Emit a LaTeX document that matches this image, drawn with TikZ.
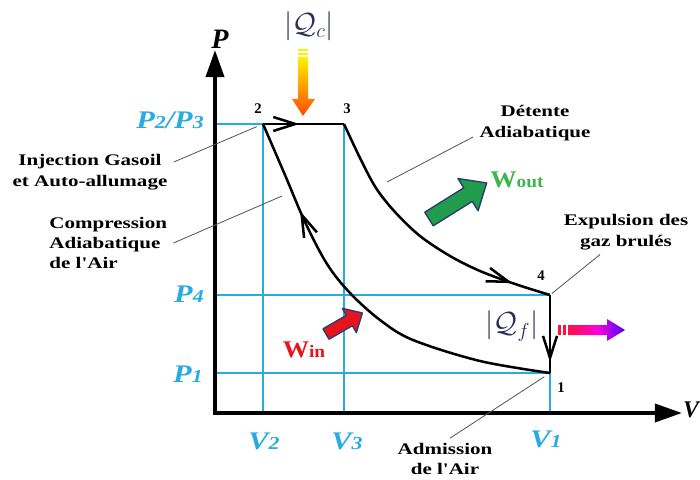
\documentclass[tikz,border=0pt]{standalone}
\usepackage{fontspec}
\setmainfont{Liberation Serif}
\usepackage{tikz}
\usetikzlibrary{arrows.meta, decorations.markings}
\usepackage{xcolor}
\definecolor{pvblue}{HTML}{29ABE2}
\definecolor{woutgreen}{HTML}{1F9D4C}
\definecolor{woutlabel}{HTML}{3CB54A}
\definecolor{winred}{HTML}{E8141B}
\definecolor{edgenavy}{HTML}{2C3E70}
\definecolor{qnavy}{HTML}{2A2F55}
\definecolor{qcyellow}{HTML}{FFF200}
\definecolor{qcorange}{HTML}{FF4A00}
\definecolor{qfred}{HTML}{FF1040}
\definecolor{qfblue}{HTML}{4E00FF}
\newcommand{\pvlab}[2]{#1{\fontsize{13}{13}\selectfont #2}}

\tikzset{
  axis line/.style={line width=2.8pt, line cap=rect, -{Triangle[length=6.8mm, width=4.5mm]}},
  grid line/.style={pvblue, line width=1.1pt},
  cycle line/.style={line width=1.8pt, line join=round},
  flow/.style={postaction={decorate}, decoration={markings,
      mark=at position #1 with {\arrow{Straight Barb[length=5.5mm, width=3.5mm]}}}},
  leader/.style={black!65, line width=0.6pt},
  note/.style={font=\bfseries\fontsize{11.5}{14.5}\selectfont, xscale=1.3, align=center},
  pvlabel/.style={font=\bfseries\itshape\fontsize{18}{18}\selectfont, text=pvblue, xscale=1.2, inner sep=1pt},
  num/.style={font=\bfseries\fontsize{10.5}{10.5}\selectfont},
  heat/.style={font=\fontsize{21}{21}\selectfont, text=qnavy},
}

\begin{document}
\begin{tikzpicture}[x=0.25mm, y=-0.25mm]
\useasboundingbox (0,0) rectangle (700,479);

% states of the cycle
\coordinate (p1) at (550,373);
\coordinate (p2) at (263,124);
\coordinate (p3) at (344,124);
\coordinate (p4) at (550,295);
\coordinate (o) at (215,413);
\coordinate (vend) at (682,413);
\coordinate (pend) at (215,50);

% blue reading lines
\draw[grid line] (p2 -| o) -- (p2) -- (p2 |- o);
\draw[grid line] (p3) -- (p3 |- o);
\draw[grid line] (p4 -| o) -- (p4);
\draw[grid line] (p1 -| o) -- (p1) -- (p1 |- o);

% axes
\draw[axis line] (o) -- (vend);
\draw[axis line] (o) -- (pend);
\node[font=\bfseries\itshape\fontsize{20}{20}\selectfont] (plab) at (220,39) {P};
\node[font=\bfseries\itshape\fontsize{17}{17}\selectfont, anchor=east, inner sep=0.5pt] (vlab) at (700,410) {V};

\node[pvlabel] (lp23) at (170,120) {\pvlab{P}{2}/\pvlab{P}{3}};
\node[pvlabel] (lp4) at (189,294) {\pvlab{P}{4}};
\node[pvlabel] (lp1) at (188,374) {\pvlab{P}{1}};
\node[pvlabel] (lv2) at (264,441) {\pvlab{V}{2}};
\node[pvlabel] (lv3) at (347,441) {\pvlab{V}{3}};
\node[pvlabel] (lv1) at (546,439) {\pvlab{V}{1}};

% the cycle
\draw[cycle line, flow=0.45] (p2) -- (p3);
\draw[cycle line, flow=0.86] (p4) -- (p1);
\draw[cycle line, flow=0.77] plot[smooth, tension=0.55] coordinates
  {(p1) (480,361) (413,340) (380,320) (350,293) (327,264) (305,222) (285,175) (p2)};
\draw[cycle line, flow=0.86] plot[smooth, tension=0.55] coordinates
  {(p3) (360,158) (376,188) (395,212) (420,236) (450,256) (480,271) (515,284) (p4)};

\node[num] (n2) at (258,109) {2};
\node[num] (n3) at (347,109) {3};
\node[num] (n4) at (541,276) {4};
\node[num] (n1) at (561,388) {1};

% heat in and out
\node[heat] (qc) at (309,26) {$|\mathcal{Q}_c|$};
\fill[qcyellow] (298,49) rectangle (308,51);
\fill[qcyellow] (298,53) rectangle (308,55);
\shade[top color=qcyellow, bottom color=qcorange] (298,57) -- (308,57) -- (308,99) -- (315,99)
  -- (303,116) -- (292,99) -- (298,99) -- cycle;

\node[heat] (qf) at (512,326) {$|\mathcal{Q}_f|$};
\fill[qfred] (558,325) rectangle (561,335);
\fill[qfred] (563,325) rectangle (566,335);
\shade[left color=qfred, right color=qfblue, middle color=magenta!85!red] (568,325) -- (607,325)
  -- (607,319) -- (625,330) -- (607,341) -- (607,335) -- (568,335) -- cycle;

% work
\begin{scope}[shift={(429,219)}, rotate=32]
  \draw[fill=woutgreen, draw=edgenavy, line width=1pt, line join=round]
    (0,-8) -- (46,-8) -- (46,-19) -- (68,0) -- (46,19) -- (46,8) -- (0,8) -- cycle;
\end{scope}
\begin{scope}[shift={(326,334)}, rotate=30]
  \draw[fill=winred, draw=edgenavy, line width=1pt, line join=round]
    (0,-6) -- (27,-6) -- (27,-14) -- (42,0) -- (27,14) -- (27,6) -- (0,6) -- cycle;
\end{scope}
\node[font=\bfseries\fontsize{17}{17}\selectfont, text=woutlabel, xscale=1.1] (wout) at (517,180)
  {W{\fontsize{12.5}{12.5}\selectfont out}};
\node[font=\bfseries\fontsize{17}{17}\selectfont, text=winred, xscale=1.1] (win) at (304,350)
  {W{\fontsize{12.5}{12.5}\selectfont in}};

% stages of the cycle
\node[note] (inj) at (90,172) {Injection Gasoil\\et Auto-allumage};
\node[note, align=left, anchor=west] (comp) at (43,243) {Compression\\Adiabatique\\de l\textquotesingle Air};
\node[note] (det) at (535,123) {Détente\\Adiabatique};
\node[note] (expu) at (626,232) {Expulsion des\\gaz brulés};
\node[note] (adm) at (445,459) {Admission\\de l\textquotesingle Air};

\coordinate (compend) at (282,196);
\coordinate (detend) at (387,182);
\draw[leader, shorten >=1.7mm] ([yshift=2.5mm]inj.east) -- (p2);
\draw[leader] (comp.east) -- (compend);
\draw[leader] ([yshift=-3.5mm]det.west) -- (detend);
\draw[leader, shorten >=0.6mm] ([xshift=-6.5mm]expu.south) -- (p4);
\draw[leader, shorten >=1.7mm] ([xshift=1.25mm]adm.north) -- (p1);
\end{tikzpicture}
\end{document}
